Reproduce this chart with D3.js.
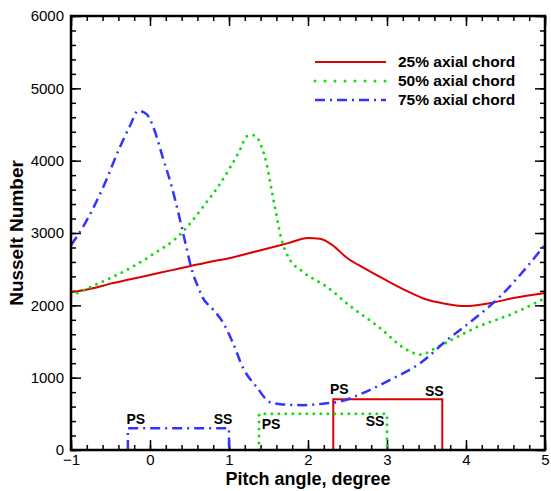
<!DOCTYPE html>
<html>
<head>
<meta charset="utf-8">
<script src="https://cdn.jsdelivr.net/npm/d3@7"></script>
<style>
  html, body { margin: 0; padding: 0; background: #fff; }
  svg { display: block; font-family: "Liberation Sans", Arial, Helvetica, sans-serif; }
</style>
</head>
<body>
<svg id="chart" width="551" height="491"></svg>
<script>
// Pitch angle (degree) and Nusselt number along each axial-chord station
const pitch25 = [-1, -0.75, -0.5, -0.25, 0, 0.25, 0.5, 0.75, 1.0, 1.25, 1.5, 1.75, 2.0, 2.15, 2.3, 2.5, 2.7, 3.0, 3.25, 3.5, 3.7, 4.0, 4.3, 4.6, 5.0];
const nu25    = [2180, 2230, 2300, 2360, 2420, 2480, 2540, 2600, 2650, 2720, 2790, 2860, 2930, 2920, 2840, 2650, 2520, 2340, 2200, 2080, 2030, 1990, 2030, 2100, 2170];

const pitch50 = [-1, -0.7, -0.32, 0, 0.4, 0.67, 0.86, 1.0, 1.13, 1.23, 1.32, 1.42, 1.48, 1.54, 1.6, 1.66, 1.75, 1.94, 2.22, 2.57, 2.91, 3.2, 3.42, 3.63, 4.14, 4.6, 5.0];
const nu50    = [2130, 2280, 2475, 2680, 3000, 3360, 3640, 3880, 4130, 4340, 4350, 4170, 3940, 3590, 3250, 2930, 2670, 2460, 2270, 1960, 1690, 1420, 1320, 1420, 1700, 1890, 2100];

const pitch75 = [-1, -0.85, -0.59, -0.38, -0.25, -0.15, -0.04, 0.04, 0.16, 0.28, 0.35, 0.44, 0.54, 0.61, 0.66, 0.8, 0.92, 1.05, 1.18, 1.35, 1.52, 1.68, 1.94, 2.19, 2.44, 2.7, 3.04, 3.42, 3.76, 4.09, 4.43, 4.77, 5.0];
const nu75    = [2830, 3080, 3640, 4190, 4490, 4690, 4640, 4470, 4050, 3620, 3320, 2900, 2450, 2250, 2120, 1940, 1770, 1480, 1130, 870, 660, 630, 620, 640, 680, 790, 970, 1200, 1520, 1800, 2120, 2530, 2840];

// Blade passage markers per station (25%, 50%, 75%): pressure side (PS) and
// suction side (SS) pitch positions and the marker height
const bladePS    = [2.32, 1.38, -0.28];
const bladeSS    = [3.7, 3.0, 1.0];
const bladeLevel = [700, 500, 300];

const seriesNames = ["25% axial chord", "50% axial chord", "75% axial chord"];
const xTicks = [-1, 0, 1, 2, 3, 4, 5];
const yTicks = [0, 1000, 2000, 3000, 4000, 5000, 6000];

const colors = ["#dd0000", "#11dd11", "#3333ff"];
const dashes = [null, "0,7", "10,5,2,5"];
const widths = [2, 3, 2.5];

const svg = d3.select("#chart");
const x = d3.scaleLinear().domain([-1, 5]).range([71, 545]);
const y = d3.scaleLinear().domain([0, 6000]).range([450, 16]);

const minorX = d3.range(-1, 5.0001, 0.2).map(v => +v.toFixed(2));
const minorY = d3.range(0, 6001, 200);

// Inward ticks on all four sides
function tickAxis(gen, transform, values, size, labels) {
  const g = svg.append("g").attr("transform", transform)
    .call(gen.tickValues(values).tickSizeInner(-size).tickSizeOuter(0)
      .tickFormat(labels ? d3.format("d") : ""));
  g.select(".domain").remove();
  g.selectAll(".tick line").attr("stroke", "#000").attr("stroke-width", 1.5);
  if (labels) {
    g.selectAll(".tick text").attr("font-size", 15).attr("fill", "#000");
  } else {
    g.selectAll(".tick text").remove();
  }
  return g;
}
// bottom
tickAxis(d3.axisBottom(x), `translate(0,${y(0)})`, minorX, 5, false);
tickAxis(d3.axisBottom(x), `translate(0,${y(0)})`, xTicks, 10, true)
  .selectAll(".tick text").attr("y", 4);
// top
tickAxis(d3.axisTop(x), `translate(0,${y(6000)})`, minorX, 5, false);
tickAxis(d3.axisTop(x), `translate(0,${y(6000)})`, xTicks, 10, false);
// left
tickAxis(d3.axisLeft(y), `translate(${x(-1)},0)`, minorY, 5, false);
tickAxis(d3.axisLeft(y), `translate(${x(-1)},0)`, yTicks, 10, true)
  .selectAll(".tick text").attr("x", -7);
// right
tickAxis(d3.axisRight(y), `translate(${x(5)},0)`, minorY, 5, false);
tickAxis(d3.axisRight(y), `translate(${x(5)},0)`, yTicks, 10, false);

// Blade position markers
for (let i = 0; i < 3; i++) {
  const pts = [[bladePS[i], 0], [bladePS[i], bladeLevel[i]], [bladeSS[i], bladeLevel[i]], [bladeSS[i], 0]];
  svg.append("path")
    .attr("d", d3.line().x(d => x(d[0])).y(d => y(d[1]))(pts))
    .attr("fill", "none")
    .attr("stroke", colors[i])
    .attr("stroke-width", widths[i])
    .attr("stroke-linecap", i === 1 ? "round" : "butt")
    .attr("stroke-dasharray", dashes[i]);
}

// Curves
const curveData = [
  d3.zip(pitch25, nu25),
  d3.zip(pitch50, nu50),
  d3.zip(pitch75, nu75)
];
const line = d3.line().x(d => x(d[0])).y(d => y(d[1])).curve(d3.curveMonotoneX);
curveData.forEach((data, i) => {
  svg.append("path")
    .attr("d", line(data))
    .attr("fill", "none")
    .attr("stroke", colors[i])
    .attr("stroke-width", widths[i])
    .attr("stroke-linecap", i === 1 ? "round" : "butt")
    .attr("stroke-linejoin", "round")
    .attr("stroke-dasharray", dashes[i]);
});

// PS / SS labels
const labelOffsets = [
  { ps: [6, -10], ss: [-8, -8] },
  { ps: [12, 10], ss: [-12, 7] },
  { ps: [8, -9], ss: [-6, -9] }
];
for (let i = 0; i < 3; i++) {
  const o = labelOffsets[i];
  svg.append("text").text("PS")
    .attr("x", x(bladePS[i]) + o.ps[0]).attr("y", y(bladeLevel[i]) + o.ps[1])
    .attr("dy", "0.35em").attr("text-anchor", "middle")
    .attr("font-size", 14).attr("font-weight", "bold");
  svg.append("text").text("SS")
    .attr("x", x(bladeSS[i]) + o.ss[0]).attr("y", y(bladeLevel[i]) + o.ss[1])
    .attr("dy", "0.35em").attr("text-anchor", "middle")
    .attr("font-size", 14).attr("font-weight", "bold");
}

// Frame
svg.append("rect")
  .attr("x", x(-1)).attr("y", y(6000))
  .attr("width", x(5) - x(-1)).attr("height", y(0) - y(6000))
  .attr("fill", "none").attr("stroke", "#000").attr("stroke-width", 2.5);

// Legend
const legend = svg.append("g");
seriesNames.forEach((name, i) => {
  const ly = 62 + i * 19;
  legend.append("line")
    .attr("x1", 315).attr("x2", 386).attr("y1", ly).attr("y2", ly)
    .attr("stroke", colors[i]).attr("stroke-width", widths[i])
    .attr("stroke-linecap", i === 1 ? "round" : "butt")
    .attr("stroke-dasharray", i === 1 ? "0,10" : dashes[i]);
  legend.append("text").text(name)
    .attr("x", 398).attr("y", ly).attr("dy", "0.35em")
    .attr("font-size", 15.5).attr("font-weight", "bold");
});

// Axis titles
svg.append("text").text("Pitch angle, degree")
  .attr("x", (x(-1) + x(5)) / 2).attr("y", 485)
  .attr("text-anchor", "middle").attr("font-size", 18).attr("font-weight", "bold");
svg.append("text").text("Nusselt Number")
  .attr("transform", `translate(23,${(y(0) + y(6000)) / 2}) rotate(-90)`)
  .attr("text-anchor", "middle").attr("font-size", 19).attr("font-weight", "bold");
</script>
</body>
</html>
